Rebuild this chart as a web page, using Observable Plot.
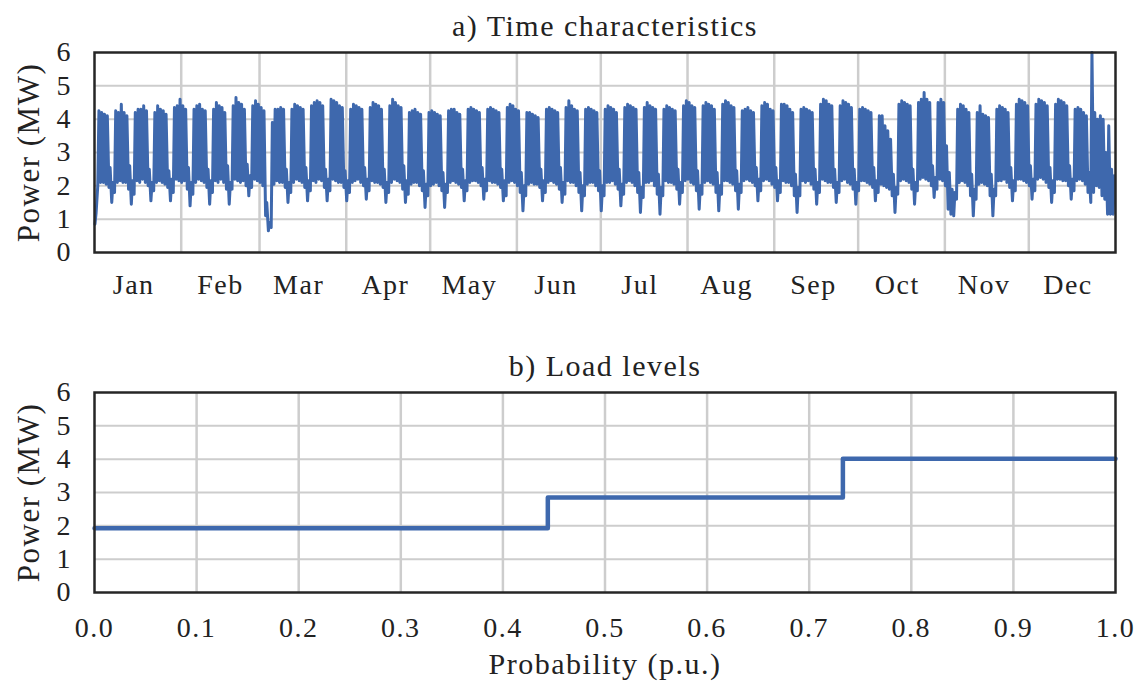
<!DOCTYPE html>
<html>
<head>
<meta charset="utf-8">
<script src="https://cdn.jsdelivr.net/npm/d3@7"></script>
<script src="https://cdn.jsdelivr.net/npm/@observablehq/plot@0.6"></script>
<style>
  html, body { margin: 0; padding: 0; background: #fff; }
  #chart svg { display: block; }
</style>
</head>
<body>
<div id="chart"></div>
<script>
// ---------- data ----------
const year = 2018; // Jan 1 is a Monday
const monthLabels = ["Jan","Feb","Mar","Apr","May","Jun","Jul","Aug","Sep","Oct","Nov","Dec"];
const powerTicks = [0, 1, 2, 3, 4, 5, 6];
const probTicks = [0, 0.1, 0.2, 0.3, 0.4, 0.5, 0.6, 0.7, 0.8, 0.9, 1.0];

// daily peak power (MW), one row per week, Mon..Sun
const dailyHigh = [
  1.20,4.25,4.20,4.15,4.10,2.55,2.10,
  4.25,4.20,4.45,4.20,4.10,2.60,2.15,
  4.20,4.30,4.30,4.40,4.25,2.50,2.10,
  4.20,4.40,4.30,4.25,4.15,2.45,2.20,
  4.35,4.40,4.60,4.40,4.30,2.55,2.10,
  4.30,4.40,4.45,4.30,4.25,2.50,2.15,
  4.30,4.50,4.40,4.35,4.20,2.60,2.10,
  4.40,4.65,4.50,4.45,4.30,2.65,2.30,
  4.40,4.55,4.45,4.35,4.25,1.50,0.90,
  3.90,4.30,4.30,4.35,4.30,2.50,2.10,
  4.30,4.45,4.40,4.35,4.30,2.55,2.15,
  4.40,4.50,4.55,4.50,4.40,2.50,2.20,
  4.60,4.55,4.50,4.40,4.35,2.45,2.15,
  4.30,4.45,4.40,4.35,4.30,2.55,2.20,
  4.35,4.50,4.45,4.40,4.30,2.50,2.10,
  4.40,4.60,4.50,4.40,4.35,2.60,2.15,
  4.20,4.25,4.30,4.20,4.15,2.45,2.05,
  4.20,4.25,4.20,4.15,4.10,2.40,2.05,
  4.25,4.30,4.30,4.20,4.15,2.50,2.15,
  4.30,4.35,4.30,4.25,4.20,2.55,2.20,
  4.30,4.35,4.30,4.25,4.20,2.50,2.15,
  4.35,4.45,4.40,4.30,4.25,2.40,2.00,
  4.20,4.20,4.15,4.10,4.05,2.50,2.15,
  4.30,4.35,4.30,4.25,4.20,2.55,2.10,
  4.35,4.55,4.40,4.30,4.25,2.40,2.00,
  4.30,4.35,4.30,4.25,4.20,2.45,2.00,
  4.30,4.40,4.35,4.30,4.20,2.50,2.05,
  4.35,4.45,4.40,4.35,4.30,2.40,1.95,
  4.35,4.50,4.40,4.35,4.30,2.35,1.95,
  4.30,4.40,4.35,4.30,4.25,2.50,2.10,
  4.40,4.55,4.50,4.40,4.35,2.45,2.00,
  4.40,4.50,4.45,4.40,4.30,2.40,2.00,
  4.45,4.55,4.50,4.40,4.35,2.45,2.05,
  4.25,4.30,4.35,4.25,4.20,2.55,2.20,
  4.40,4.50,4.45,4.30,4.25,2.55,2.15,
  4.45,4.45,4.40,4.30,4.20,2.35,1.95,
  4.30,4.35,4.30,4.25,4.20,2.50,2.10,
  4.45,4.60,4.55,4.45,4.40,2.50,2.10,
  4.40,4.55,4.50,4.45,4.35,2.50,2.10,
  4.30,4.35,4.30,4.25,4.20,2.55,2.15,
  4.10,4.10,3.80,3.65,3.40,2.35,1.95,
  4.45,4.55,4.50,4.45,4.40,2.50,2.10,
  4.50,4.60,4.80,4.60,4.50,2.60,2.25,
  4.50,4.60,4.50,3.20,2.40,1.90,1.80,
  4.30,4.45,4.40,4.30,4.20,2.35,1.90,
  4.20,4.40,4.15,4.10,4.05,2.35,1.90,
  4.30,4.40,4.35,4.30,4.20,2.55,2.15,
  4.45,4.60,4.55,4.50,4.40,2.60,2.20,
  4.45,4.60,4.55,4.50,4.40,2.55,2.15,
  4.45,4.60,4.55,4.50,4.40,2.60,2.20,
  4.30,4.35,4.30,4.20,4.10,2.40,6.00,
  4.20,4.00,4.10,4.00,3.00,3.80,2.50,
  2.30
];

// daily minimum power (MW), one row per week, Mon..Sun
const dailyLow = [
  0.85,2.00,2.10,2.10,2.05,1.95,1.50,
  1.80,2.10,2.15,2.10,2.10,1.90,1.45,
  1.75,2.15,2.10,2.20,2.10,2.00,1.55,
  1.85,2.10,2.15,2.10,2.05,1.95,1.55,
  1.80,2.20,2.15,2.10,2.15,1.90,1.40,
  1.75,2.10,2.20,2.15,2.10,1.95,1.45,
  1.80,2.15,2.10,2.20,2.10,1.90,1.45,
  1.90,2.20,2.15,2.10,2.15,2.00,1.70,
  1.95,2.20,2.15,2.10,2.00,1.10,0.65,
  0.75,2.05,2.15,2.10,2.10,1.95,1.50,
  1.80,2.10,2.20,2.15,2.10,1.95,1.55,
  1.85,2.15,2.10,2.20,2.15,1.95,1.55,
  1.85,2.20,2.15,2.10,2.10,1.95,1.55,
  1.80,2.10,2.15,2.20,2.10,2.00,1.60,
  1.85,2.15,2.10,2.10,2.05,1.95,1.50,
  1.80,2.10,2.20,2.15,2.10,1.90,1.50,
  1.75,2.05,2.10,2.10,2.00,1.85,1.35,
  1.70,2.00,2.05,2.10,2.00,1.85,1.35,
  1.80,2.10,2.15,2.10,2.05,1.95,1.55,
  1.85,2.10,2.15,2.15,2.10,2.00,1.60,
  1.85,2.15,2.10,2.10,2.05,1.95,1.55,
  1.70,2.10,2.15,2.10,2.00,1.80,1.25,
  1.70,2.05,2.10,2.05,2.05,1.95,1.55,
  1.80,2.10,2.15,2.10,2.05,1.90,1.50,
  1.75,2.15,2.10,2.10,2.00,1.80,1.25,
  1.70,2.05,2.10,2.10,2.00,1.85,1.25,
  1.70,2.10,2.10,2.15,2.05,1.90,1.40,
  1.75,2.10,2.15,2.10,2.00,1.80,1.20,
  1.65,2.10,2.10,2.15,2.00,1.75,1.15,
  1.70,2.15,2.10,2.10,2.05,1.90,1.45,
  1.80,2.15,2.20,2.10,2.05,1.85,1.30,
  1.75,2.10,2.15,2.10,2.05,1.80,1.25,
  1.75,2.15,2.15,2.10,2.05,1.85,1.30,
  1.80,2.15,2.20,2.15,2.10,2.00,1.55,
  1.85,2.15,2.20,2.15,2.05,1.95,1.55,
  1.80,2.15,2.10,2.10,2.00,1.70,1.20,
  1.70,2.15,2.10,2.15,2.05,1.90,1.45,
  1.80,2.20,2.15,2.10,2.10,1.95,1.50,
  1.80,2.15,2.20,2.10,2.05,1.90,1.45,
  1.85,2.15,2.15,2.10,2.05,1.95,1.55,
  1.80,2.05,2.00,1.95,1.90,1.70,1.20,
  1.75,2.15,2.20,2.15,2.10,1.90,1.45,
  1.85,2.20,2.25,2.20,2.15,2.00,1.65,
  1.90,2.20,2.15,2.00,1.30,1.15,1.10,
  1.60,2.10,2.15,2.10,2.00,1.70,1.10,
  1.60,2.05,2.10,2.05,2.00,1.70,1.10,
  1.70,2.15,2.15,2.20,2.10,1.95,1.55,
  1.85,2.20,2.20,2.15,2.10,2.00,1.60,
  1.85,2.20,2.25,2.20,2.10,1.95,1.50,
  1.80,2.20,2.20,2.15,2.15,2.00,1.60,
  1.85,2.15,2.20,2.15,2.05,1.80,1.50,
  1.80,2.00,1.95,1.70,1.60,1.15,1.15,
  1.15
];

// load levels (duration step curve)
const levelProbability = [0.0, 0.444, 0.733, 1.0];
const levelPower = [1.93, 2.85, 4.01, 4.01];

const titles = ["a) Time characteristics", "b) Load levels"];
const yLabel = "Power (MW)";
const xLabel = "Probability (p.u.)";

// ---------- build tables ----------
const lineColor = "#3e68ad";
const gridColor = "#cdcdcd";
const frameColor = "#262626";
const textColor = "#222";

const series = [];
dailyHigh.forEach((hi, i) => {
  series.push({t: new Date(Date.UTC(year, 0, 1 + i, 4)), p: dailyLow[i]});
  series.push({t: new Date(Date.UTC(year, 0, 1 + i, 14)), p: hi});
});
const monthStarts = monthLabels.map((_, m) => new Date(Date.UTC(year, m, 1)));
const monthRows = monthLabels.map((label, m) => ({date: new Date(Date.UTC(year, m, 15)), label}));
const levels = levelProbability.map((x, i) => ({x, p: levelPower[i]}));

const baseStyle = {
  fontFamily: "'Liberation Serif', 'Times New Roman', serif",
  fontSize: "28px",
  color: textColor,
  background: "#fff",
  letterSpacing: "1.5px",
  overflow: "visible"
};

const topChart = Plot.plot({
  width: 1140,
  height: 340,
  marginLeft: 94,
  marginRight: 25,
  marginTop: 52,
  marginBottom: 88,
  style: baseStyle,
  x: {type: "utc", axis: null, domain: [new Date(Date.UTC(year, 0, 1)), new Date(Date.UTC(year + 1, 0, 1))]},
  y: {domain: [0, 6], axis: null},
  marks: [
    Plot.gridY(powerTicks.slice(1, -1), {stroke: gridColor, strokeOpacity: 1, strokeWidth: 2}),
    Plot.gridX(monthStarts.slice(1), {stroke: gridColor, strokeOpacity: 1, strokeWidth: 2.5}),
    Plot.line(series, {x: "t", y: "p", stroke: lineColor, strokeWidth: 3}),
    Plot.axisY(powerTicks, {tickSize: 0, tickPadding: 22.5, label: null}),
    Plot.text(monthRows, {x: "date", text: "label", frameAnchor: "bottom", textAnchor: "middle", lineAnchor: "top", dy: 21.5, fill: textColor}),
    Plot.text([yLabel], {text: d => d, frameAnchor: "left", textAnchor: "middle", rotate: -90, dx: -65.5, lineAnchor: "middle", fontSize: 31, fill: textColor}),
    Plot.text([titles[0]], {text: d => d, frameAnchor: "top", textAnchor: "middle", lineAnchor: "bottom", dy: -17, fontSize: 30, fill: textColor}),
    Plot.frame({stroke: frameColor, strokeWidth: 2.5})
  ]
});

const bottomChart = Plot.plot({
  width: 1140,
  height: 348,
  marginLeft: 94,
  marginRight: 25,
  marginTop: 52,
  marginBottom: 96,
  style: baseStyle,
  x: {domain: [0, 1], axis: null},
  y: {domain: [0, 6], axis: null},
  marks: [
    Plot.gridY(powerTicks.slice(1, -1), {stroke: gridColor, strokeOpacity: 1, strokeWidth: 2}),
    Plot.gridX(probTicks.slice(1, -1), {stroke: gridColor, strokeOpacity: 1, strokeWidth: 2.5}),
    Plot.line(levels, {x: "x", y: "p", curve: "step-after", stroke: lineColor, strokeWidth: 4.5}),
    Plot.axisY(powerTicks, {tickSize: 0, tickPadding: 22.5, label: null}),
    Plot.axisX(probTicks, {tickSize: 0, tickPadding: 25, tickFormat: d3.format(".1f"), label: null}),
    Plot.text([yLabel], {text: d => d, frameAnchor: "left", textAnchor: "middle", rotate: -90, dx: -65.5, lineAnchor: "middle", fontSize: 31, fill: textColor}),
    Plot.text([titles[1]], {text: d => d, frameAnchor: "top", textAnchor: "middle", lineAnchor: "bottom", dy: -17, fontSize: 30, fill: textColor}),
    Plot.text([xLabel], {text: d => d, frameAnchor: "bottom", textAnchor: "middle", lineAnchor: "bottom", dy: 81.5, fontSize: 30, fill: textColor}),
    Plot.frame({stroke: frameColor, strokeWidth: 2.5})
  ]
});

const container = document.getElementById("chart");
container.appendChild(topChart);
container.appendChild(bottomChart);
</script>
</body>
</html>
